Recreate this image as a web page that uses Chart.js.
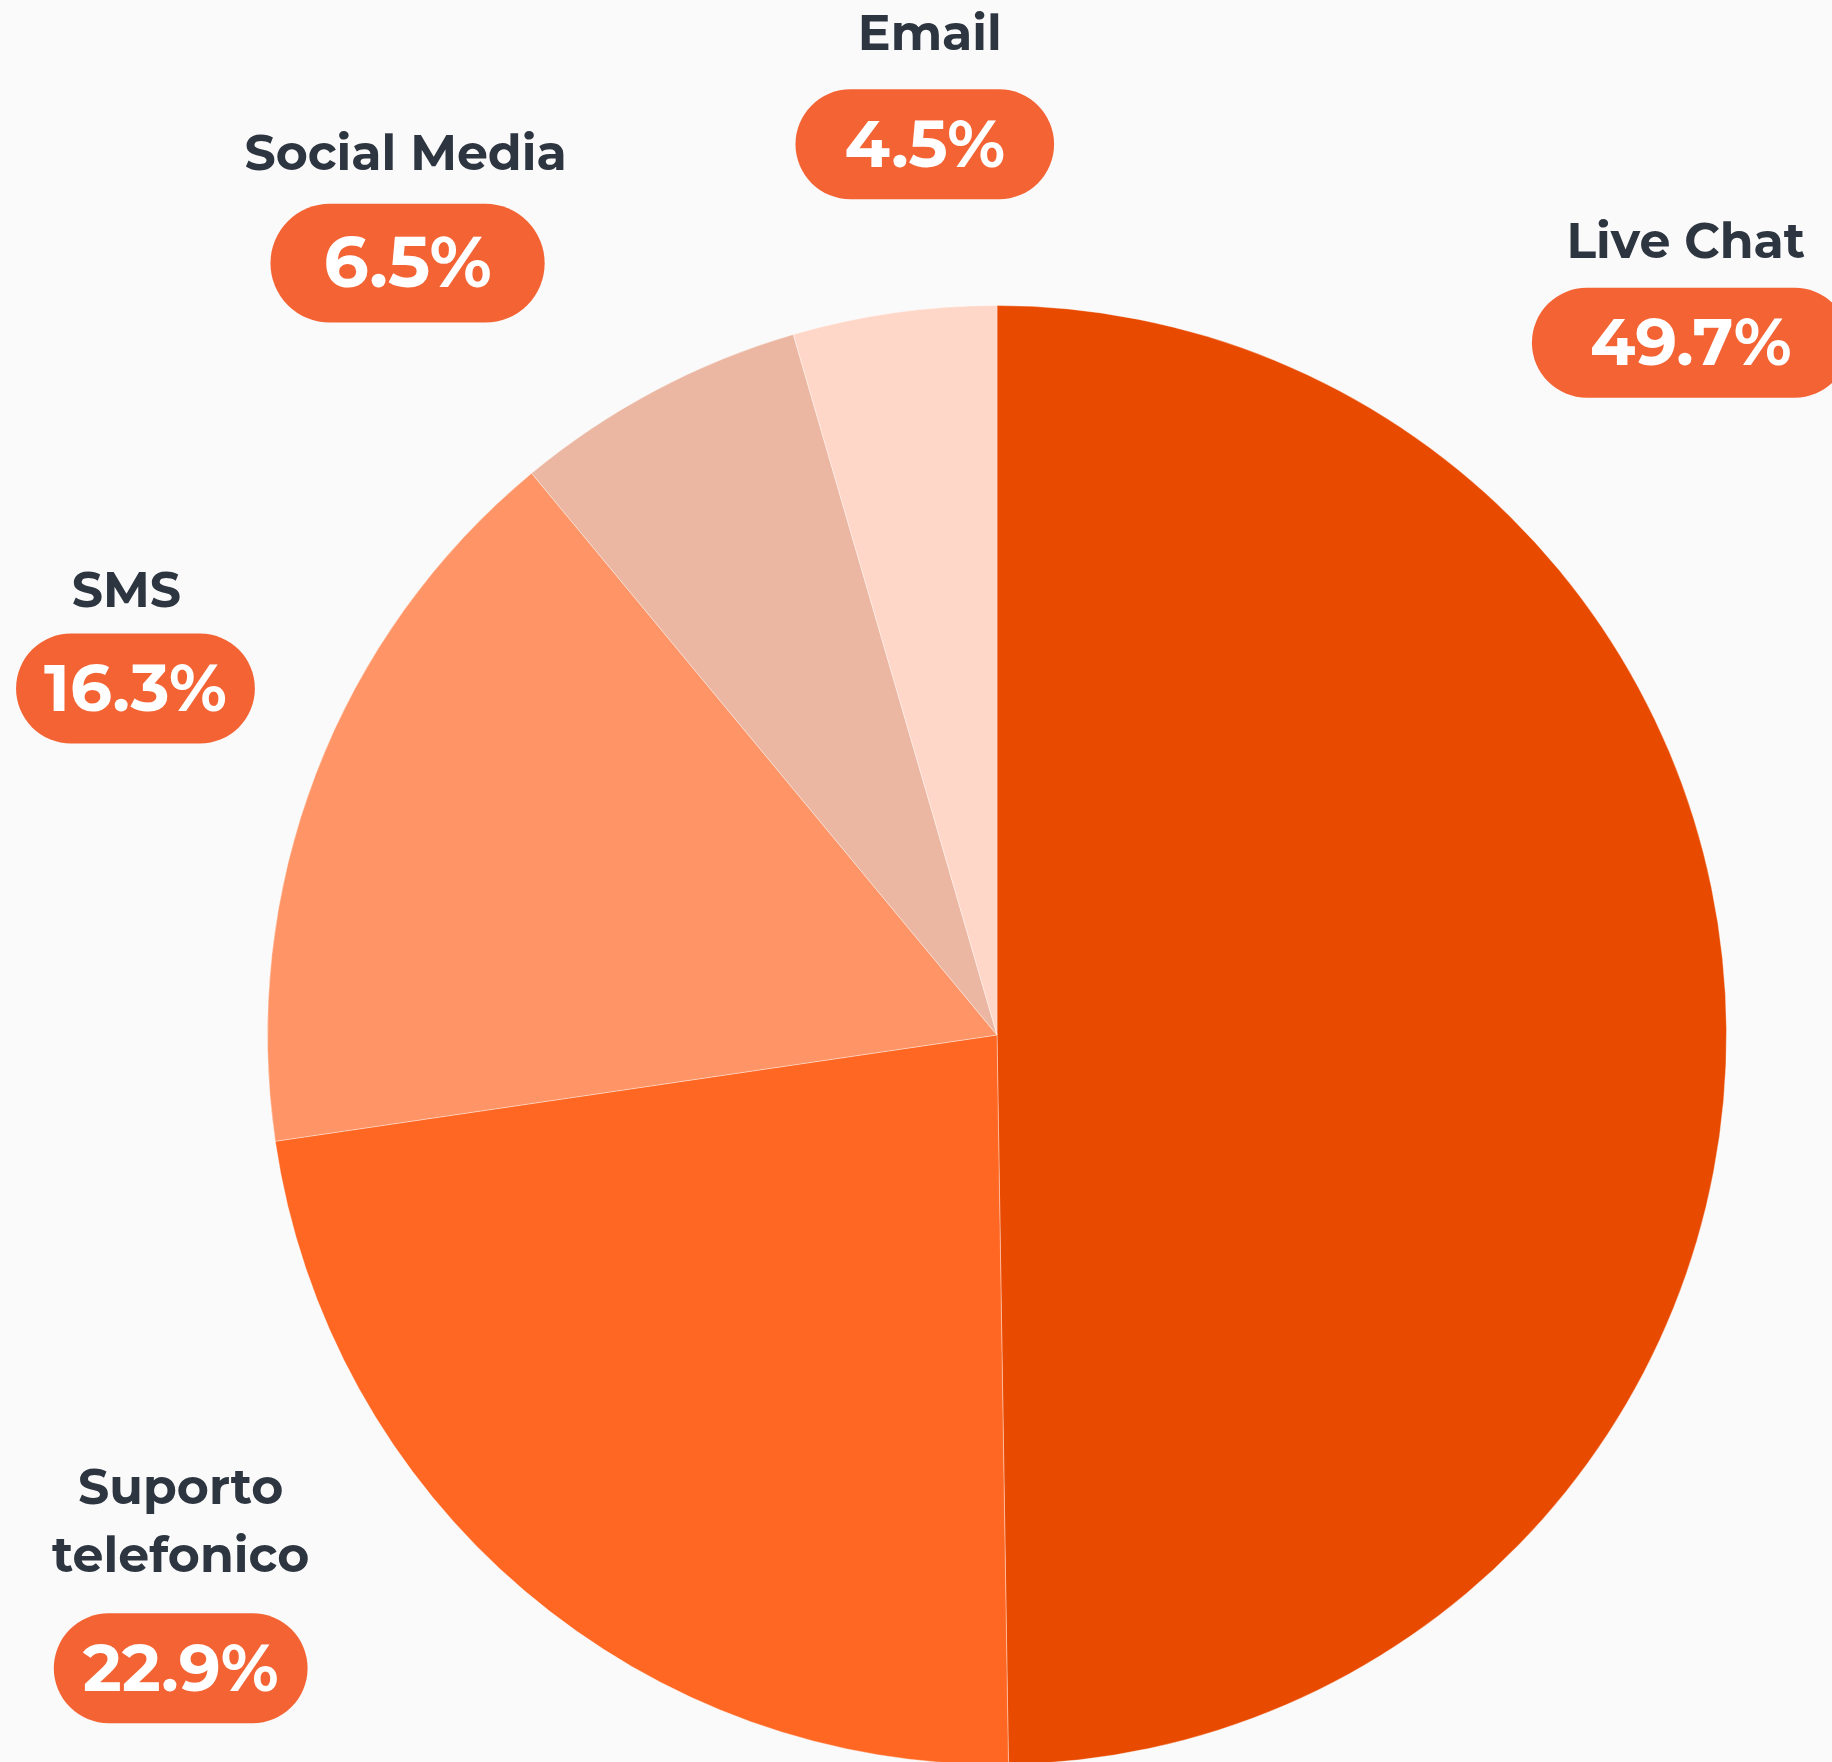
<!DOCTYPE html>
<html><head><meta charset="utf-8">
<script src="https://cdn.jsdelivr.net/npm/chart.js@4.4.1/dist/chart.umd.min.js"></script>
<style>
html,body{margin:0;padding:0;background:#FAFAFA;overflow:hidden;}
#wrap{width:1832px;height:1800px;position:relative;}
</style></head><body>
<div id="wrap"><canvas id="c" width="1832" height="1800"></canvas></div>
<script>
const categories = ['Live Chat', 'Suporto telefonico', 'SMS', 'Social Media', 'Email'];
const shares = [49.7, 22.9, 16.3, 6.5, 4.5];
const sliceColors = ['#E84A00', '#FF6723', '#FF9566', '#EBB7A2', '#FFD7C8'];

// label layout: badge centre (in units of pie radius from pie centre), badge side padding, badge scale, name offsets
const labelSpots = [[0.951, -0.949], [-1.119, 0.868], [-1.181, -0.475], [-0.808, -1.058], [-0.099, -1.221]];
const badgePad = [58, 29, 28, 49, 49];
const badgeScale = [1, 1, 1, 1.08, 1];
const nameGap = [99, 111, 96, 108, 109];
const nameDx = [-5, 0, -9, -2, 5];

const FONT = 'Montserrat, Inter, "Open Sans", sans-serif';
const pillLabels = {
  id: 'pillLabels',
  afterDatasetsDraw(chart) {
    const ctx = chart.ctx;
    const meta = chart.getDatasetMeta(0);
    meta.data.forEach((arc, i) => {
      const p = arc.getProps(['x', 'y', 'outerRadius'], true);
      const bx = p.x + p.outerRadius * labelSpots[i][0];
      const by = p.y + p.outerRadius * labelSpots[i][1];
      const val = chart.data.datasets[0].data[i].toFixed(1) + '%';
      const s = badgeScale[i];
      ctx.save();
      ctx.font = '700 ' + Math.round(66 * s) + 'px ' + FONT;
      const tw = ctx.measureText(val).width;
      const w = tw + 2 * badgePad[i] * s, h = 110 * s;
      ctx.fillStyle = '#F46334';
      ctx.beginPath();
      ctx.roundRect(bx - w / 2, by - h / 2, w, h, h / 2);
      ctx.fill();
      ctx.fillStyle = '#FFFFFF';
      ctx.textAlign = 'center';
      ctx.textBaseline = 'middle';
      ctx.fillText(val, bx, by + 3 * s);
      ctx.font = '700 49px ' + FONT;
      ctx.fillStyle = '#2D3540';
      const name = chart.data.labels[i];
      let lines = [name];
      if (ctx.measureText(name).width > 360) lines = name.split(' ');
      const lh = 68;
      lines.forEach((ln, k) => {
        const y = by - nameGap[i] - (lines.length - 1 - k) * lh;
        ctx.fillText(ln, bx + nameDx[i], y);
      });
      ctx.restore();
    });
  }
};

new Chart(document.getElementById('c'), {
  type: 'pie',
  data: {
    labels: categories,
    datasets: [{
      data: shares,
      backgroundColor: sliceColors,
      borderColor: 'rgba(255,255,255,0.35)',
      borderWidth: 1
    }]
  },
  options: {
    responsive: false,
    devicePixelRatio: 1,
    animation: false,
    layout: { padding: { left: 267, right: 105, top: 305, bottom: 35 } },
    plugins: { legend: { display: false }, tooltip: { enabled: false } }
  },
  plugins: [pillLabels]
});
</script>
</body></html>
